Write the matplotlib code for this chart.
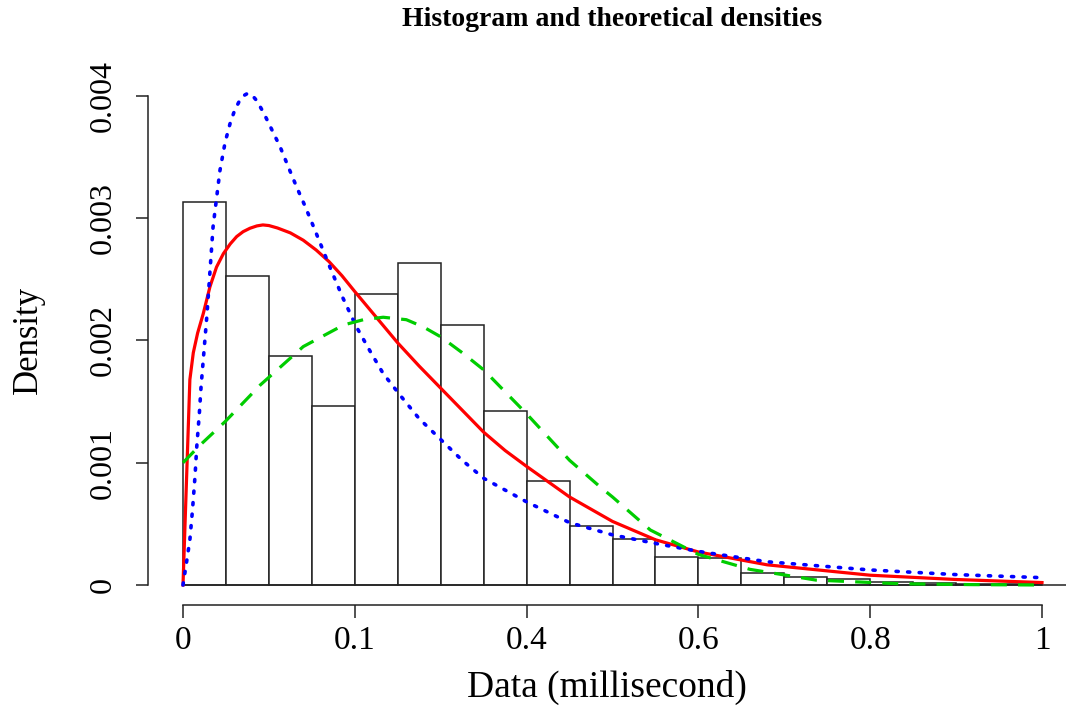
import numpy as np
import matplotlib
matplotlib.use("Agg")
import matplotlib.pyplot as plt

plt.rcParams['font.family'] = ['Liberation Serif', 'DejaVu Serif']

# histogram (bin left edges, density values in units of 1e-3)
bin_left = [0.00, 0.05, 0.10, 0.15, 0.20, 0.25, 0.30, 0.35, 0.40, 0.45,
            0.50, 0.55, 0.60, 0.65, 0.70, 0.75, 0.80, 0.85, 0.90, 0.95]
bin_width = 0.05
hist_density = [3.13, 2.53, 1.87, 1.46, 2.38, 2.63, 2.13, 1.42, 0.85, 0.48,
                0.38, 0.23, 0.22, 0.10, 0.065, 0.047, 0.027, 0.02, 0.012, 0.008]

# theoretical densities (units of 1e-3)
red_x = [0, 0.008, 0.012, 0.017, 0.0236, 0.0314, 0.039, 0.047, 0.055, 0.0625,
         0.07, 0.078, 0.086, 0.093, 0.1, 0.11, 0.125, 0.14, 0.155, 0.17, 0.185,
         0.2, 0.225, 0.25, 0.275, 0.3, 0.325, 0.35, 0.375, 0.4, 0.45, 0.5,
         0.55, 0.6, 0.68, 0.8, 0.9, 1.0]
red_y = [0, 1.68, 1.90, 2.06, 2.22, 2.44, 2.60, 2.71, 2.79, 2.85,
         2.89, 2.918, 2.937, 2.945, 2.94, 2.92, 2.88, 2.82, 2.74, 2.645, 2.53,
         2.40, 2.19, 1.98, 1.79, 1.61, 1.43, 1.25, 1.10, 0.97, 0.72, 0.52,
         0.37, 0.27, 0.165, 0.08, 0.045, 0.02]

blue_x = [0, 0.004, 0.008, 0.011, 0.014, 0.016, 0.019, 0.021, 0.028, 0.035,
          0.043, 0.049, 0.055, 0.06, 0.065, 0.07, 0.075, 0.08, 0.086, 0.094,
          0.103, 0.113, 0.122, 0.132, 0.142, 0.152, 0.171, 0.186, 0.202, 0.218,
          0.233, 0.253, 0.275, 0.3, 0.325, 0.35, 0.4, 0.45, 0.5, 0.55, 0.6,
          0.68, 0.8, 0.9, 1.0]
blue_y = [0, 0.18, 0.37, 0.61, 0.89, 1.13, 1.40, 1.62, 2.22, 2.93,
          3.39, 3.62, 3.78, 3.88, 3.95, 4.00, 4.02, 4.01, 3.96, 3.86,
          3.73, 3.585, 3.43, 3.26, 3.10, 2.93, 2.60, 2.35, 2.11, 1.91,
          1.73, 1.55, 1.36, 1.19, 1.02, 0.873, 0.68, 0.51, 0.41, 0.34, 0.275,
          0.19, 0.123, 0.085, 0.06]

green_x = [0, 0.02, 0.049, 0.09, 0.14, 0.187, 0.21, 0.233, 0.26, 0.28, 0.3,
           0.326, 0.35, 0.4, 0.45, 0.486, 0.5, 0.544, 0.6, 0.66, 0.737, 0.835,
           0.92, 1.0]
green_y = [1.0, 1.145, 1.336, 1.636, 1.95, 2.127, 2.17, 2.19, 2.17, 2.11, 2.03,
           1.895, 1.76, 1.40, 1.02, 0.80, 0.72, 0.45, 0.25, 0.128, 0.04, 0.01,
           0.003, 0.0]

x_ticks = [0, 0.2, 0.4, 0.6, 0.8, 1.0]
x_ticklabels = ['0', '0.1', '0.4', '0.6', '0.8', '1']
y_ticks = [0, 0.001, 0.002, 0.003, 0.004]
y_ticklabels = ['0', '0.001', '0.002', '0.003', '0.004']

scale = 1e-3

fig = plt.figure(figsize=(10.66, 7.09), dpi=100)
ax = fig.add_axes([148 / 1066, 104 / 709, 918 / 1066, 533.5 / 709])

ax.bar(bin_left, np.array(hist_density) * scale, width=bin_width, align='edge',
       color='white', edgecolor='#222222', linewidth=1.1, zorder=2)
ax.hlines(0, 0, 1.2, color='#222222', linewidth=1.1, zorder=2)

ax.plot(red_x, np.array(red_y) * scale, color='#ff0000', lw=2.3, zorder=3,
        solid_joinstyle='round')
ax.plot(blue_x, np.array(blue_y) * scale, color='#0000ff', lw=2.6,
        linestyle=(0, (0.6, 2.6)), dash_capstyle='round', zorder=4)
ax.plot(green_x, np.array(green_y) * scale, color='#00cd00', lw=2.3,
        linestyle=(0, (5, 3.5)), zorder=5)

ax.set_xlim(-35 / 859, 883 / 859)
ax.set_ylim(-20 / 122250, 0.0042)

for side in ['top', 'right']:
    ax.spines[side].set_visible(False)
ax.spines['left'].set_bounds(0, 0.004)
ax.spines['bottom'].set_bounds(0, 1)
for side in ['left', 'bottom']:
    ax.spines[side].set_linewidth(1.1)
    ax.spines[side].set_color('#222222')

ax.set_xticks(x_ticks)
ax.set_xticklabels(x_ticklabels, fontsize=24)
ax.set_yticks(y_ticks)
ax.set_yticklabels(y_ticklabels, fontsize=23, rotation=90, va='center')
ax.tick_params(axis='both', direction='out', length=9, width=1.1, color='#222222')
ax.tick_params(axis='y', pad=13)
ax.tick_params(axis='x', pad=6)

ax.set_xlabel('Data (millisecond)', fontsize=27, labelpad=10)
fig.text(28 / 1066, 1 - 340 / 709, 'Density', fontsize=25, rotation=90,
         ha='center', va='center')
fig.text(612 / 1066, 1 - 20 / 709, 'Histogram and theoretical densities',
         fontsize=20, fontweight='bold', ha='center', va='center')

fig.savefig('out.png', dpi=100)
